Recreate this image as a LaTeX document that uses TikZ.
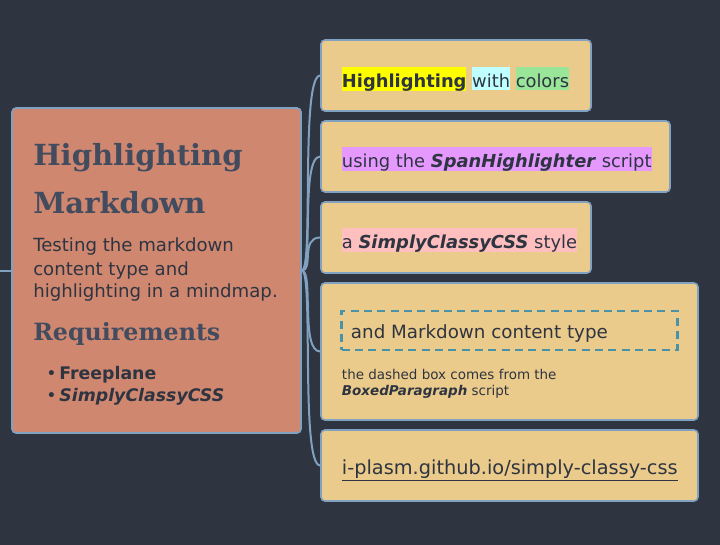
\documentclass[tikz,border=0pt]{standalone}
\usepackage{fontspec}
\setmainfont{DejaVu Sans}
\newfontfamily\titlefont{DejaVu Serif}
\usepackage{xcolor}
\usepackage{tikz}
\definecolor{MapBg}{HTML}{2E3440}
\definecolor{MapRoot}{HTML}{D08770}
\definecolor{MapLeaf}{HTML}{EBCB8B}
\definecolor{MapEdge}{HTML}{81A1C1}
\definecolor{MapTitle}{HTML}{434C5E}
\definecolor{MapText}{HTML}{2E3440}
\definecolor{MapDash}{HTML}{4A92A8}
\definecolor{HlYellow}{HTML}{FFFF00}
\definecolor{HlCyan}{HTML}{BFFFFF}
\definecolor{HlGreen}{HTML}{99E699}
\definecolor{HlViolet}{HTML}{E599FF}
\definecolor{HlPink}{HTML}{FFBFBF}
\newcommand\hlspan[2]{{\setlength{\fboxsep}{0pt}\colorbox{#1}{\rule[-2pt]{0pt}{17pt}#2}}}

\begin{document}
\begin{tikzpicture}[x=0.75pt,y=-0.75pt,
  box/.style={draw=MapEdge,line width=1.2pt,rounded corners=3pt,inner sep=0pt},
  rootbox/.style={box,fill=MapRoot,minimum width=216.75pt,minimum height=243.75pt},
  leafbox/.style={box,fill=MapLeaf,minimum height=53.25pt},
  txt/.style={anchor=base west,inner sep=0pt,text=MapText,font=\fontsize{13.4}{15}\selectfont},
  title/.style={anchor=base west,inner sep=0pt,text=MapTitle,font=\titlefont\bfseries\fontsize{21.8}{26}\selectfont},
  edge/.style={MapEdge,line width=1.5pt}]
\fill[MapBg] (0,0) rectangle (720,545);
\path[use as bounding box] (0,0) rectangle (720,545);
% boxes
\node[rootbox] (root) at (156.5,270.5) {};
\node[leafbox,minimum width=202.5pt] (colors) at (456,75.5) {};
\node[leafbox,minimum width=261.75pt] (span) at (495.5,156.5) {};
\node[leafbox,minimum width=202.5pt] (style) at (456,237.5) {};
\node[leafbox,minimum width=282.75pt,minimum height=102.75pt] (markdown) at (509.5,351.5) {};
\node[leafbox,minimum width=282.75pt] (link) at (509.5,465.5) {};
% edges
\coordinate (parent) at (0,270.5);
\draw[edge] (parent) -- (root.west);
\foreach \leaf in {colors,span,style,markdown,link}
  \draw[edge] (root.east) .. controls +(12,0) and +(-20,0) .. (\leaf.west);
% root text
\node[title] (title1) at (33,165.7) {Highlighting};
\node[title] (title2) at (33,213.3) {Markdown};
\node[txt,font=\fontsize{13.6}{15}\selectfont] (intro1) at (33,251.7) {Testing the markdown};
\node[txt,font=\fontsize{13.6}{15}\selectfont] (intro2) at (33,275) {content type and};
\node[txt,font=\fontsize{13.6}{15}\selectfont] (intro3) at (33,297.7) {highlighting in a mindmap.};
\node[title,font=\titlefont\bfseries\fontsize{17.8}{20}\selectfont] (reqs) at (33,340) {Requirements};
\node[txt,font=\fontsize{13}{15}\selectfont] (req1) at (46,379.3) {\textbullet\,\textbf{Freeplane}};
\node[txt,font=\fontsize{13}{15}\selectfont] (req2) at (46,401.7) {\textbullet\,\textbf{\textit{SimplyClassyCSS}}};
% leaf text
\node[txt] (colorstext) at (341.7,87.3) {\hlspan{HlYellow}{\textbf{Highlighting}} \hlspan{HlCyan}{with} \hlspan{HlGreen}{colors}};
\node[txt] (spantext) at (341.7,167.3) {\hlspan{HlViolet}{using the \textbf{\textit{SpanHighlighter}} script}};
\node[txt] (styletext) at (341.7,248.3) {\hlspan{HlPink}{a \textbf{\textit{SimplyClassyCSS}} style}};
\node[draw=MapDash,line width=2.2pt,dash pattern=on 6pt off 4pt,minimum width=251.7pt,minimum height=29.25pt,inner sep=0pt] (mdbox) at (509.5,330.5) {};
\node[txt,font=\fontsize{13.7}{15}\selectfont] (mdtext) at (350.7,338.3) {and Markdown content type};
\node[txt,font=\fontsize{10.1}{12}\selectfont] (note1) at (341.7,379) {the dashed box comes from the};
\node[txt,font=\fontsize{10.1}{12}\selectfont] (note2) at (341.7,395) {\textbf{\textit{BoxedParagraph}} script};
\node[txt,font=\fontsize{14.5}{16}\selectfont] (linktext) at (341.7,474) {\underline{i-plasm.github.io/simply-classy-css}};
\end{tikzpicture}
\end{document}
